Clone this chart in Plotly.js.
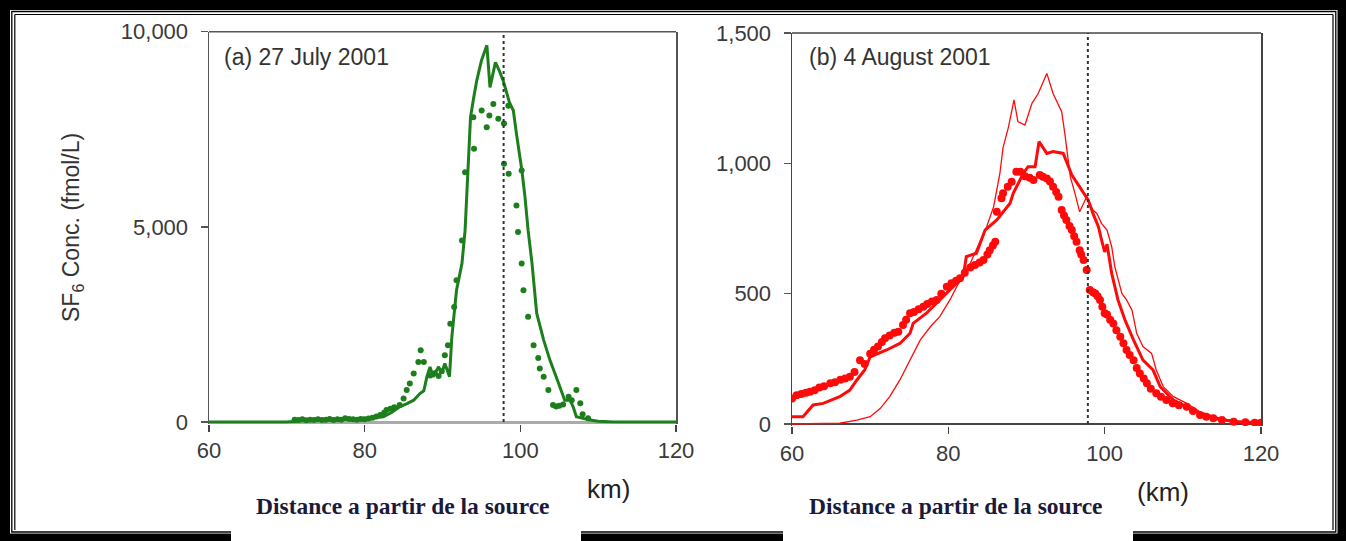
<!DOCTYPE html>
<html>
<head>
<meta charset="utf-8">
<script src="https://cdn.plot.ly/plotly-3.0.1.min.js"></script>
<style>html,body{margin:0;padding:0;background:#fff;}#chart{width:1346px;height:541px;}</style>
</head>
<body>
<div id="chart"></div>
<script>
// ---------- data ----------
const kmTicks = [60, 80, 100, 120];
const concTicksA = [0, 5000, 10000];
const concLabelsA = ['0', '5,000', '10,000'];
const concTicksB = [0, 500, 1000, 1500];
const concLabelsB = ['0', '500', '1,000', '1,500'];
const referenceKm = 97.85;
const panelLabelA = '(a) 27 July 2001';
const panelLabelB = '(b) 4 August 2001';
const yTitle = 'SF<sub>6</sub> Conc. (fmol/L)';
const xTitleText = 'Distance a partir de la source';

// (a) 27 July 2001 - model (solid line)
const modelA_km = [60, 70, 72, 74, 76, 78, 79.8, 80.5, 81.5, 82.4, 83.5, 84.5, 85.5, 86.3, 87.1, 87.6, 88.0, 88.4, 88.8, 89.2, 89.5, 89.9, 90.3, 90.9, 91.2, 91.8, 92.5, 92.9, 93.3, 93.6, 94.0, 94.4, 95.0, 95.7, 96.1, 96.8, 97.3, 97.8, 98.6, 99.1, 99.5, 100.2, 100.6, 101.0, 101.5, 102.1, 103.0, 103.8, 104.9, 105.7, 106.4, 106.8, 107.2, 108, 109, 110, 111, 112, 120];
const modelA_val = [0, 0, 30, 50, 60, 80, 95, 90, 110, 135, 250, 390, 480, 560, 730, 800, 1160, 1414, 1160, 1300, 1414, 1245, 1500, 1160, 2180, 3375, 4060, 4910, 6615, 7810, 8300, 8747, 9260, 9650, 8575, 9215, 9000, 8747, 8190, 7980, 7390, 6445, 5760, 4910, 4066, 2790, 2100, 1586, 1000, 560, 560, 384, 135, 90, 50, 20, 10, 0, 0];

// (a) observations (dots)
const obsA_km = [71.0, 71.5, 72.0, 72.5, 73.0, 73.5, 74.0, 74.5, 75.0, 75.5, 76.0, 76.5, 77.0, 77.5, 78.0, 78.5, 79.0, 79.5, 80.0, 80.5, 81.0, 81.5, 82.0, 82.5, 82.8, 83.3, 83.8, 84.5, 85.0, 85.4, 85.8, 86.3, 86.9, 87.2, 87.6, 88.4, 89.0, 89.5, 89.9, 90.3, 90.7, 91.0, 91.5, 91.8, 92.5, 92.9, 93.96, 94.05, 95.03, 95.68, 96.02, 96.53, 97.17, 97.9, 97.9, 98.46, 98.5, 99.5, 99.7, 100.17, 100.17, 100.4, 101.0, 101.7, 102.3, 102.5, 103.0, 103.6, 104.2, 104.6, 105.0, 105.5, 106.2, 106.6, 107.2, 107.7, 108.0, 108.7];
const obsA_val = [60, 50, 70, 45, 60, 55, 70, 50, 60, 75, 55, 70, 60, 100, 80, 70, 60, 80, 70, 90, 110, 140, 180, 240, 307, 340, 380, 435, 600, 818, 990, 1245, 1540, 1840, 1540, 1190, 1250, 1180, 1300, 1710, 1970, 2520, 2950, 3630, 4650, 6400, 7810, 7000, 7980, 7550, 7850, 8150, 7770, 7650, 6615, 8100, 6360, 5550, 4870, 6445, 4060, 3375, 2700, 1970, 1640, 1370, 1160, 820, 435, 400, 420, 450, 650, 560, 820, 480, 200, 100];

// (b) 4 August 2001 - observations (thick dots)
const obsB_km = [60.0, 60.6, 61.2, 61.8, 62.3, 62.9, 63.5, 64.1, 64.9, 65.5, 66.2, 66.8, 67.4, 68.0, 68.7, 69.3, 70.0, 70.5, 71.0, 71.5, 71.9, 72.5, 73.1, 73.6, 74.2, 74.6, 75.1, 75.6, 76.2, 76.8, 77.3, 77.9, 78.5, 79.1, 79.8, 80.4, 81.0, 81.5, 82.1, 82.8, 83.4, 84.0, 84.5, 85.0, 85.3, 85.7, 86.0, 86.2, 86.8, 87.0, 87.6, 88.1, 88.7, 89.2, 89.8, 90.4, 90.9, 91.7, 92.1, 92.6, 93.0, 93.4, 93.8, 94.1, 94.5, 94.8, 95.1, 95.5, 95.8, 96.1, 96.4, 96.8, 97.0, 97.3, 97.7, 98.1, 98.5, 98.8, 99.1, 99.4, 99.7, 100.0, 100.3, 100.7, 101.1, 101.5, 102.0, 102.4, 102.8, 103.2, 103.7, 104.1, 104.5, 105.0, 105.4, 105.9, 106.6, 107.2, 107.9, 108.7, 109.5, 110.5, 111.3, 112.2, 113.0, 113.9, 115.0, 116.5, 118.0, 119.2, 120.0];
const obsB_val = [98, 110, 115, 120, 124, 130, 140, 145, 156, 160, 170, 175, 181, 200, 245, 230, 270, 285, 297, 315, 329, 340, 350, 354, 380, 400, 425, 430, 440, 450, 460, 470, 476, 500, 527, 540, 550, 559, 580, 600, 610, 620, 629, 650, 667, 685, 699, 814, 866, 885, 910, 929, 968, 968, 950, 945, 936, 955, 949, 942, 930, 910, 890, 872, 821, 800, 783, 760, 744, 720, 699, 667, 650, 629, 591, 514, 505, 501, 490, 476, 450, 425, 420, 400, 386, 360, 335, 310, 284, 265, 245, 215, 194, 175, 156, 135, 118, 105, 92, 80, 72, 66, 50, 35, 28, 22, 15, 9, 7, 5, 5];

// (b) model run 1 (medium line)
const modelB1_km = [60, 61.4, 62.7, 64.0, 66.1, 67.4, 68.3, 69.3, 70.0, 72.1, 73.8, 75.1, 75.5, 77.2, 78.9, 80.6, 81.9, 82.3, 83.6, 84.7, 86.2, 87.9, 88.3, 89.6, 90.2, 91.1, 91.6, 92.6, 93.4, 94.7, 95.8, 96.8, 97.9, 98.5, 99.2, 99.6, 100.0, 100.3, 100.9, 101.7, 102.6, 103.7, 104.9, 106.2, 107.1, 108.8, 111.3, 113.9, 116.5, 120];
const modelB1_val = [28, 28, 73, 79, 105, 130, 169, 207, 258, 284, 309, 348, 386, 425, 476, 527, 565, 642, 655, 744, 783, 847, 885, 962, 987, 987, 1083, 1038, 1045, 1038, 955, 910, 859, 808, 757, 706, 660, 690, 578, 476, 399, 322, 245, 207, 143, 92, 54, 22, 10, 5];

// (b) model run 2 (thin line)
const modelB2_km = [60, 66.1, 68.3, 70.0, 71.3, 72.5, 73.8, 75.1, 76.4, 77.7, 78.9, 80.2, 81.5, 82.8, 84.0, 84.9, 85.8, 86.6, 87.0, 87.7, 88.4, 88.9, 89.8, 90.7, 91.5, 92.6, 93.4, 94.5, 94.9, 95.6, 96.2, 96.8, 97.7, 98.5, 99.0, 99.6, 100.3, 100.9, 101.3, 102.2, 102.8, 103.5, 104.1, 104.9, 106.0, 106.6, 107.5, 108.8, 110.5, 112.2, 114.8, 117.3, 120];
const modelB2_val = [0, 3, 15, 28, 60, 105, 169, 245, 322, 373, 412, 476, 552, 616, 693, 757, 834, 962, 1060, 1140, 1243, 1160, 1147, 1230, 1268, 1345, 1268, 1198, 1115, 949, 885, 814, 872, 821, 808, 770, 744, 680, 603, 501, 476, 437, 348, 297, 271, 207, 143, 105, 79, 47, 22, 9, 5];

// ---------- layout helpers ----------
const W = 1346, H = 541;
const px = v => v / W;
const py = v => 1 - v / H;
const GREEN = '#1c7f1c';
const RED = '#ff0a0a';
const SANS = 'Liberation Sans, Arial, sans-serif';

const traces = [
  {x: modelA_km, y: modelA_val, xaxis: 'x', yaxis: 'y', mode: 'lines', line: {color: GREEN, width: 3}, hoverinfo: 'skip'},
  {x: obsA_km, y: obsA_val, xaxis: 'x', yaxis: 'y', mode: 'markers', marker: {color: GREEN, size: 6, symbol: 'circle'}, hoverinfo: 'skip'},
  {x: modelB2_km, y: modelB2_val, xaxis: 'x2', yaxis: 'y2', mode: 'lines', line: {color: RED, width: 1.3}, hoverinfo: 'skip'},
  {x: modelB1_km, y: modelB1_val, xaxis: 'x2', yaxis: 'y2', mode: 'lines', line: {color: RED, width: 3}, hoverinfo: 'skip'},
  {x: obsB_km, y: obsB_val, xaxis: 'x2', yaxis: 'y2', mode: 'markers', marker: {color: RED, size: 8, symbol: 'circle'}, hoverinfo: 'skip'}
];

const tickFont = {family: SANS, size: 22, color: '#3a3a3a'};
const xCommon = {range: [60, 120], tickvals: kmTicks, ticktext: kmTicks.map(String), ticks: 'outside', ticklen: 7, tickwidth: 1.5, tickcolor: '#444', showgrid: false, zeroline: false, showline: false, tickfont: tickFont, fixedrange: true};
const yCommon = {ticks: 'outside', ticklen: 7, tickwidth: 1.5, tickcolor: '#555', showgrid: false, showline: true, linewidth: 1.5, mirror: true, tickfont: tickFont, ticklabelstandoff: 8, fixedrange: true};

const layout = {
  width: W, height: H,
  margin: {l: 0, r: 0, t: 0, b: 0, pad: 0},
  paper_bgcolor: '#ffffff',
  plot_bgcolor: '#ffffff',
  showlegend: false,
  xaxis: Object.assign({}, xCommon, {domain: [px(209), px(676)], anchor: 'y'}),
  yaxis: Object.assign({}, yCommon, {domain: [py(423.6), py(31.7)], anchor: 'x', range: [-40, 10000], tickvals: concTicksA, ticktext: concLabelsA, linecolor: '#555', zeroline: true, zerolinecolor: '#aaaaaa', zerolinewidth: 3}),
  xaxis2: Object.assign({}, xCommon, {domain: [px(792), px(1261)], anchor: 'y2'}),
  yaxis2: Object.assign({}, yCommon, {domain: [py(426.1), py(33)], anchor: 'x2', range: [-8, 1500], tickvals: concTicksB, ticktext: concLabelsB, linecolor: '#444', zeroline: true, zerolinecolor: '#444', zerolinewidth: 1.5}),
  shapes: [
    {type: 'line', xref: 'x domain', yref: 'y domain', x0: 0, x1: 1, y0: 1, y1: 1, line: {color: '#555', width: 1.5}},
    {type: 'line', xref: 'x2 domain', yref: 'y2 domain', x0: 0, x1: 1, y0: 1, y1: 1, line: {color: '#444', width: 1.5}},
    {type: 'line', xref: 'x', yref: 'y', x0: referenceKm, x1: referenceKm, y0: 0, y1: 10000, line: {color: '#333', width: 2, dash: 'dot'}},
    {type: 'line', xref: 'x2', yref: 'y2', x0: referenceKm, x1: referenceKm, y0: 0, y1: 1500, line: {color: '#333', width: 2, dash: 'dot'}},
    {type: 'rect', xref: 'paper', yref: 'paper', x0: 0, x1: 1, y0: py(0), y1: py(10), fillcolor: '#000', line: {width: 0}},
    {type: 'rect', xref: 'paper', yref: 'paper', x0: 0, x1: 1, y0: py(533.5), y1: py(541), fillcolor: '#000', line: {width: 0}},
    {type: 'rect', xref: 'paper', yref: 'paper', x0: 0, x1: px(10), y0: 0, y1: 1, fillcolor: '#000', line: {width: 0}},
    {type: 'rect', xref: 'paper', yref: 'paper', x0: px(1337.5), x1: 1, y0: 0, y1: 1, fillcolor: '#000', line: {width: 0}},
    {type: 'rect', xref: 'paper', yref: 'paper', x0: px(11.8), x1: px(1335.8), y0: py(532), y1: py(11.5), line: {color: '#000', width: 1.3}},
    {type: 'line', xref: 'paper', yref: 'paper', x0: px(14.8), x1: px(14.8), y0: py(530), y1: py(14.5), line: {color: '#000', width: 1.2}},
    {type: 'line', xref: 'paper', yref: 'paper', x0: px(14.8), x1: px(1333), y0: py(14.5), y1: py(14.5), line: {color: '#000', width: 1.2}},
    {type: 'line', xref: 'paper', yref: 'paper', x0: px(1333), x1: px(1333), y0: py(530), y1: py(14.5), line: {color: '#000', width: 1.2}},
    {type: 'rect', xref: 'paper', yref: 'paper', x0: px(231), x1: px(581), y0: py(541), y1: py(526), fillcolor: '#fff', line: {width: 0}},
    {type: 'rect', xref: 'paper', yref: 'paper', x0: px(783), x1: px(1133), y0: py(541), y1: py(526), fillcolor: '#fff', line: {width: 0}}
  ],
  annotations: [
    {xref: 'paper', yref: 'paper', x: px(222), y: py(57), xanchor: 'left', yanchor: 'middle', text: panelLabelA, showarrow: false, font: {family: SANS, size: 23, color: '#333'}},
    {xref: 'paper', yref: 'paper', x: px(807), y: py(57), xanchor: 'left', yanchor: 'middle', text: panelLabelB, showarrow: false, font: {family: SANS, size: 23, color: '#333'}},
    {xref: 'paper', yref: 'paper', x: px(72), y: py(228), xanchor: 'center', yanchor: 'middle', text: yTitle, textangle: -90, showarrow: false, font: {family: SANS, size: 23, color: '#333'}},
    {xref: 'paper', yref: 'paper', x: px(608), y: py(489), xanchor: 'center', yanchor: 'middle', text: 'km)', showarrow: false, font: {family: SANS, size: 26, color: '#222'}},
    {xref: 'paper', yref: 'paper', x: px(1163), y: py(492), xanchor: 'center', yanchor: 'middle', text: '(km)', showarrow: false, font: {family: SANS, size: 26, color: '#222'}},
    {xref: 'paper', yref: 'paper', x: px(403), y: py(506), xanchor: 'center', yanchor: 'middle', text: '<b>' + xTitleText + '</b>', showarrow: false, font: {family: 'Liberation Serif, Times New Roman, serif', size: 23.5, color: '#1a1a3a'}},
    {xref: 'paper', yref: 'paper', x: px(956), y: py(506), xanchor: 'center', yanchor: 'middle', text: '<b>' + xTitleText + '</b>', showarrow: false, font: {family: 'Liberation Serif, Times New Roman, serif', size: 23.5, color: '#1a1a3a'}}
  ]
};

Plotly.newPlot('chart', traces, layout, {staticPlot: true, displayModeBar: false});
</script>
</body>
</html>
